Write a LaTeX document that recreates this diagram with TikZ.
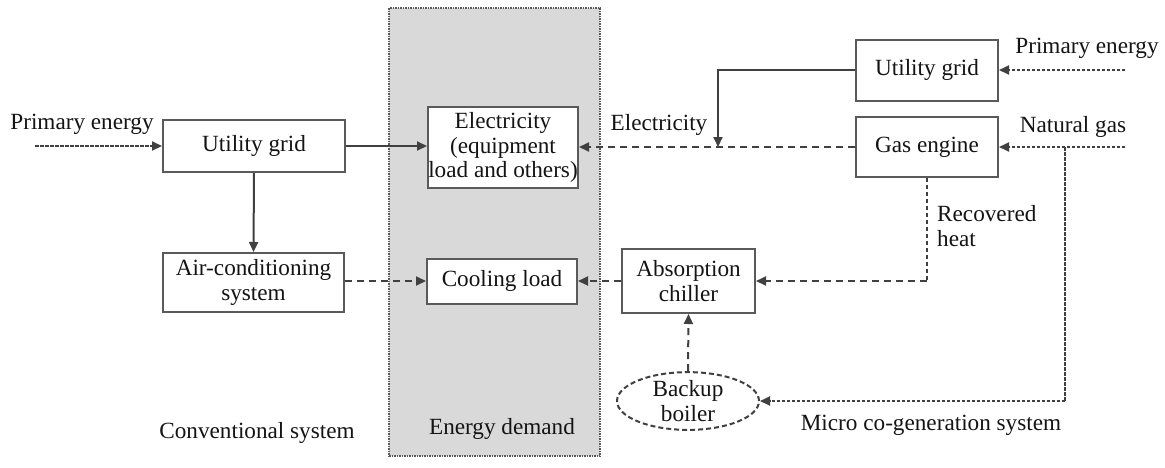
\documentclass[tikz,border=0pt]{standalone}
\usepackage{fontspec}
\setmainfont{Liberation Serif}
\usetikzlibrary{arrows.meta,shapes.geometric}
\definecolor{linec}{HTML}{404040}
\definecolor{boxc}{HTML}{5A5A5A}
\definecolor{grayfill}{HTML}{D9D9D9}
\definecolor{txt}{HTML}{141414}
\tikzset{
  every node/.style={text=txt, font=\fontsize{23.2}{24.5}\selectfont},
  blockbox/.style={draw=boxc, line width=2pt, fill=white, align=center, inner sep=0pt},
  lbl/.style={inner sep=0pt, align=center},
  tip/.style={-{Triangle[length=10pt,width=9pt]}},
  solidc/.style={draw=linec, line width=2pt, tip},
  dashc/.style={draw=linec, line width=2pt, dash pattern=on 7pt off 5pt, tip},
  finec/.style={draw=linec, line width=2pt, dash pattern=on 3.5pt off 1.5pt, tip},
  finel/.style={draw=linec, line width=2pt, dash pattern=on 3.5pt off 1.5pt},
  dashl/.style={draw=linec, line width=2pt, dash pattern=on 4pt off 3pt},
}
\begin{document}
\begin{tikzpicture}[x=1pt,y=-1pt]
\useasboundingbox (0,0) rectangle (1165,467);
\fill[white] (0,0) rectangle (1165,467);
% energy demand background
\node[draw=boxc, fill=grayfill, line width=1.2pt, dash pattern=on 1.5pt off 1pt,
  minimum width=211pt, minimum height=448pt, inner sep=0pt] (demand) at (494.5,232) {};
% blocks
\node[blockbox, minimum width=182pt, minimum height=52pt] (ug1) at (254,146) {Utility grid};
\node[blockbox, minimum width=150pt, minimum height=81pt] (elec) at (503,147.5) {Electricity\\(equipment\\load and others)};
\node[blockbox, minimum width=142pt, minimum height=61pt] (ug2) at (927,70) {Utility grid};
\node[blockbox, minimum width=142pt, minimum height=60pt] (gas) at (927,147) {Gas engine};
\node[blockbox, minimum width=181pt, minimum height=59pt] (ac) at (253.5,282.5) {Air-conditioning\\system};
\node[blockbox, minimum width=150pt, minimum height=45pt] (cool) at (502,281) {Cooling load};
\node[blockbox, minimum width=133pt, minimum height=64pt] (abs) at (688.5,281) {Absorption\\chiller};
\node[ellipse, draw=linec, line width=2pt, dash pattern=on 5pt off 3pt, fill=white,
  minimum width=142pt, minimum height=55pt, inner sep=0pt, align=center] (boiler) at (688,401) {Backup\\boiler};
% labels
\node[lbl] (pel) at (82,124) {Primary energy};
\node[lbl] (per) at (1087,48) {Primary energy};
\node[lbl] (ngl) at (1073,127) {Natural gas};
\node[lbl] (ell) at (659,125) {Electricity};
\node[lbl, align=left, anchor=west] (rhl) at (937,226) {Recovered\\heat};
\node[lbl] (conv) at (257,433) {Conventional system};
\node[lbl] (edl) at (502,429) {Energy demand};
\node[lbl] (mcl) at (931,425) {Micro co-generation system};
% free ends
\coordinate (pe1) at (35,146);
\coordinate (pe2) at (1125,70);
\coordinate (ng) at (1125,147);
\coordinate (br) at (1065,147);
\coordinate (brd) at (1065,401);
\coordinate (j1) at (718,147);
\coordinate (rh) at (927,281);
% connectors
\draw[finec] (pe1) -- (ug1.west);
\draw[solidc] (ug1.east) -- (elec.west |- ug1.east);
\draw[solidc] (ug1.south) -- (ac.north);
\draw[dashc] (ac.east |- cool.west) -- (cool.west);
\draw[dashc] (gas.west) -- (elec.east |- gas.west);
\draw[solidc] (ug2.west) -| (j1);
\draw[finec] (pe2) -- (ug2.east);
\draw[finec] (ng) -- (gas.east);
\draw[finel] (br) -- (brd);
\draw[finec] (brd) -- (boiler.east);
\draw[dashl] (gas.south) -- (rh);
\draw[dashc] (rh) -- (abs.east);
\draw[dashc] (boiler.north) -- (abs.south);
\draw[dashc] (abs.west) -- (cool.east);
\end{tikzpicture}
\end{document}
